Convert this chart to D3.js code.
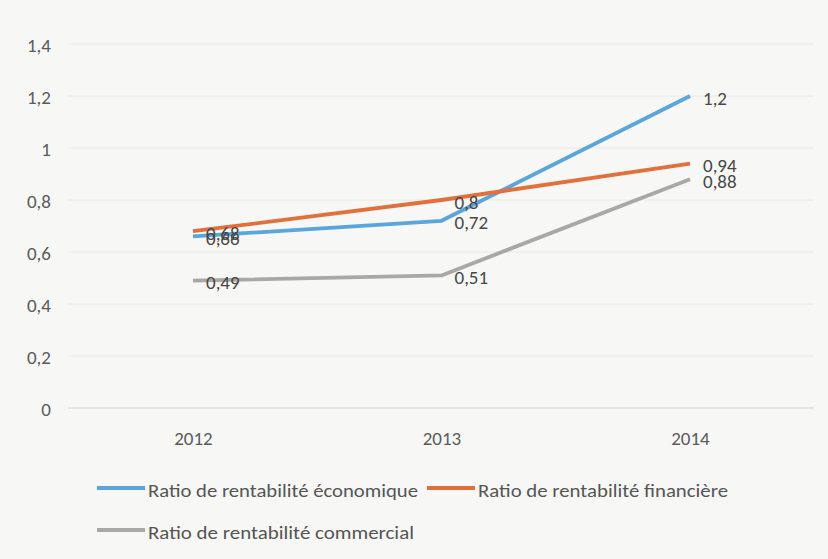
<!DOCTYPE html>
<html>
<head>
<meta charset="utf-8">
<script src="https://cdn.jsdelivr.net/npm/d3@7"></script>
<style>
  html, body { margin: 0; padding: 0; background: #f7f7f5; }
  svg { display: block; font-family: Carlito, Lato, "Noto Sans", sans-serif; }
</style>
</head>
<body>
<svg id="chart" width="828" height="559"></svg>
<script>
// Years on the category axis
const years = ["2012", "2013", "2014"];
// Ratio values per series
const economique = [0.66, 0.72, 1.2];
const financiere = [0.68, 0.8, 0.94];
const commercial = [0.49, 0.51, 0.88];
// Series names shown in the legend
const seriesNames = [
  "Ratio de rentabilité économique",
  "Ratio de rentabilité financière",
  "Ratio de rentabilité commercial"
];
// Value axis ticks
const yTicks = [0, 0.2, 0.4, 0.6, 0.8, 1, 1.2, 1.4];

const colors = ["#5aa5dc", "#e2703d", "#aaa8a4"];
const series = [economique, financiere, commercial].map((v, i) => ({
  name: seriesNames[i], values: v, color: colors[i]
}));

const FONT = "Carlito, Lato, 'Noto Sans', sans-serif";
const svg = d3.select("#chart");
const plot = { left: 68, right: 814, top: 44, bottom: 408 };

const x = d3.scalePoint().domain(years).range([193, 690]);
const y = d3.scaleLinear().domain([0, 1.4]).range([plot.bottom, plot.top]);

const fmt = v => String(v).replace(".", ",");

// Horizontal gridlines
svg.append("g")
  .selectAll("line")
  .data(yTicks.filter(t => t > 0))
  .join("line")
  .attr("x1", plot.left).attr("x2", plot.right)
  .attr("y1", d => y(d)).attr("y2", d => y(d))
  .attr("stroke", "#e8e8e6").attr("stroke-width", 1);

// Value axis labels
const yAxis = d3.axisLeft(y).tickValues(yTicks).tickFormat(fmt).tickSize(0).tickPadding(0);
svg.append("g")
  .attr("transform", "translate(51,1)")
  .call(yAxis)
  .call(g => g.select(".domain").remove())
  .call(g => g.selectAll("text")
    .attr("fill", "#5a5a5a").attr("font-size", 19)
    .attr("font-family", FONT));

// Category axis baseline and labels
svg.append("line")
  .attr("x1", plot.left).attr("x2", plot.right)
  .attr("y1", y(0)).attr("y2", y(0))
  .attr("stroke", "#d2d2d0").attr("stroke-width", 1);

const xAxis = d3.axisBottom(x).tickSize(0).tickPadding(0);
svg.append("g")
  .attr("transform", `translate(0,${y(0) + 23})`)
  .call(xAxis)
  .call(g => g.select(".domain").remove())
  .call(g => g.selectAll("text")
    .attr("fill", "#5a5a5a").attr("font-size", 19)
    .attr("font-family", FONT));

// Series lines
const line = d3.line().x((d, i) => x(years[i])).y(d => y(d));
svg.append("g")
  .selectAll("path")
  .data(series)
  .join("path")
  .attr("d", d => line(d.values))
  .attr("fill", "none")
  .attr("stroke", d => d.color)
  .attr("stroke-width", 3.8)
  .attr("stroke-linejoin", "round");

// Data labels to the right of each point
const labelG = svg.append("g");
series.forEach(s => {
  labelG.selectAll(null)
    .data(s.values)
    .join("text")
    .attr("x", (d, i) => x(years[i]) + 13)
    .attr("y", d => y(d) + 2)
    .attr("dy", "0.35em")
    .attr("fill", "#474747")
    .attr("font-size", 19)
    .text(d => fmt(d));
});

// Legend
const legendPos = [
  { x: 97, y: 488, w: 270 },
  { x: 427, y: 488, w: 250 },
  { x: 97, y: 530, w: 266 }
];
const legend = svg.append("g")
  .selectAll("g")
  .data(series)
  .join("g")
  .attr("transform", (d, i) => `translate(${legendPos[i].x},${legendPos[i].y})`);
legend.append("line")
  .attr("x1", 0).attr("x2", 48)
  .attr("stroke", d => d.color).attr("stroke-width", 3.8);
legend.append("text")
  .attr("x", 51).attr("y", 2).attr("dy", "0.35em")
  .attr("fill", "#555")
  .attr("font-size", 19)
  .attr("textLength", (d, i) => legendPos[i].w)
  .attr("lengthAdjust", "spacingAndGlyphs")
  .text(d => d.name);
</script>
</body>
</html>
